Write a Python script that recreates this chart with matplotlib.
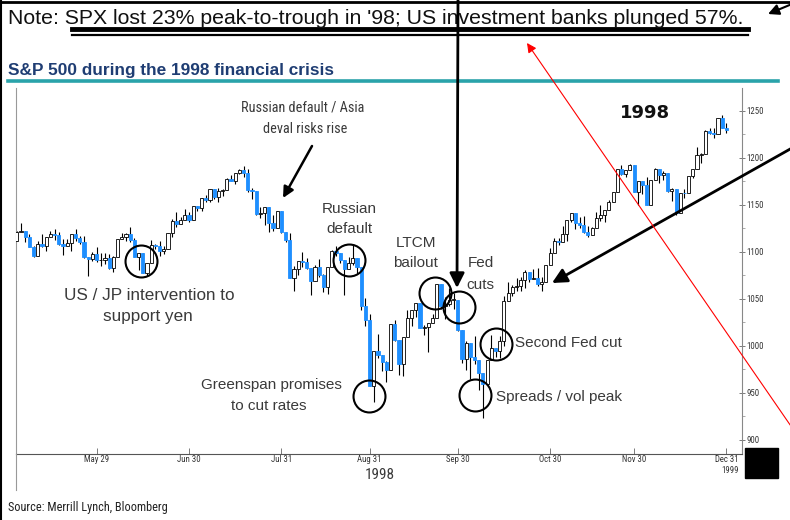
import numpy as np
import matplotlib
matplotlib.use("Agg")
import matplotlib.pyplot as plt
import matplotlib.font_manager as fm
from matplotlib.patches import Rectangle
from matplotlib.lines import Line2D

# ── DATA (S&P 500 daily, May 1 – Dec 31 1998) ───────────────────────────────
closes = [
    1121.0, 1122.1, 1115.5, 1104.9, 1095.1, 1108.1, 1106.6, 1115.8, 1118.9, 1117.4,
    1108.7, 1105.8, 1109.5, 1119.1, 1114.6, 1110.5, 1094.0, 1092.2, 1097.6, 1090.8,
    1091.0, 1093.2, 1082.7, 1094.8, 1113.9, 1115.7, 1118.4, 1112.3, 1094.6, 1098.8,
    1077.0, 1087.6, 1107.1, 1106.4, 1100.7, 1103.2, 1119.5, 1132.9, 1129.3, 1133.2,
    1138.5, 1133.8, 1148.6, 1146.4, 1157.3, 1154.7, 1166.4, 1158.6, 1164.3, 1165.2,
    1177.6, 1174.8, 1184.0, 1186.8, 1184.1, 1165.1, 1164.1, 1139.8, 1140.8, 1147.3,
    1130.2, 1125.2, 1143.0, 1120.7, 1112.4, 1072.1, 1081.4, 1089.6, 1089.5, 1083.1,
    1069.0, 1084.2, 1074.9, 1062.8, 1083.7, 1101.2, 1098.1, 1091.6, 1081.2, 1088.1,
    1092.9, 1084.2, 1042.6, 1027.1, 957.3, 994.3, 990.5, 982.3, 973.9, 1023.5,
    1006.2, 980.2, 1009.1, 1029.7, 1037.7, 1045.5, 1018.9, 1020.1, 1023.9, 1029.6,
    1066.1, 1042.7, 1044.8, 1048.7, 1049.0, 1017.0, 986.4, 1002.6, 988.6, 984.6,
    970.7, 959.4, 984.4, 997.7, 994.8, 1005.5, 1047.5, 1056.4, 1062.4, 1063.9,
    1069.9, 1078.5, 1070.7, 1072.3, 1065.3, 1068.1, 1085.9, 1098.7, 1111.6, 1110.8,
    1118.7, 1133.9, 1141.0, 1130.2, 1128.3, 1121.0, 1117.7, 1125.7, 1135.9, 1139.3,
    1144.5, 1152.6, 1163.6, 1188.2, 1183.0, 1186.9, 1192.3, 1163.6, 1175.3, 1171.3,
    1150.1, 1176.7, 1187.7, 1181.4, 1183.5, 1165.0, 1166.5, 1141.2, 1162.8, 1161.9,
    1180.0, 1188.0, 1202.8, 1203.6, 1228.5, 1226.3, 1225.5, 1241.8, 1231.9, 1229.2,
]
highs = [
    1121.6, 1130.5, 1122.1, 1118.7, 1105.6, 1111.0, 1119.1, 1116.0, 1122.0, 1124.4,
    1121.3, 1113.0, 1113.5, 1119.1, 1124.6, 1116.9, 1116.6, 1094.0, 1099.7, 1104.5,
    1098.4, 1098.4, 1097.4, 1095.1, 1113.9, 1119.9, 1119.4, 1126.0, 1114.2, 1098.8,
    1098.4, 1087.6, 1112.9, 1108.0, 1111.3, 1105.6, 1120.0, 1134.4, 1142.0, 1136.8,
    1145.2, 1142.0, 1148.6, 1148.6, 1157.3, 1159.9, 1166.4, 1166.4, 1167.3, 1166.9,
    1178.1, 1181.1, 1184.0, 1188.1, 1190.6, 1187.4, 1167.7, 1164.1, 1147.5, 1147.3,
    1147.3, 1138.6, 1143.6, 1143.0, 1121.3, 1119.7, 1084.8, 1090.0, 1100.2, 1093.6,
    1083.1, 1085.5, 1092.4, 1076.2, 1083.7, 1101.7, 1106.0, 1098.1, 1091.6, 1094.8,
    1106.9, 1092.9, 1084.2, 1051.0, 1033.5, 994.3, 1013.0, 990.5, 983.9, 1023.5,
    1027.0, 1006.2, 1009.1, 1038.4, 1037.7, 1045.5, 1045.5, 1022.0, 1023.9, 1033.9,
    1066.1, 1066.1, 1051.9, 1061.5, 1056.3, 1049.0, 1017.0, 1005.0, 1002.6, 1010.0,
    985.0, 970.7, 984.4, 1011.9, 997.7, 1010.7, 1053.1, 1067.5, 1064.4, 1072.3,
    1073.1, 1080.6, 1078.5, 1081.3, 1082.5, 1072.8, 1086.1, 1103.8, 1114.7, 1114.7,
    1127.4, 1133.9, 1141.0, 1141.0, 1136.9, 1137.5, 1126.9, 1126.5, 1142.0, 1149.4,
    1144.5, 1155.4, 1163.6, 1188.2, 1191.9, 1187.2, 1192.7, 1192.3, 1175.3, 1175.3,
    1179.0, 1176.7, 1189.0, 1187.7, 1185.8, 1183.5, 1167.7, 1166.5, 1162.8, 1167.0,
    1180.0, 1188.0, 1210.9, 1205.2, 1229.6, 1232.0, 1231.5, 1241.9, 1244.9, 1237.2,
]
lows = [
    1111.8, 1121.0, 1110.2, 1104.6, 1094.2, 1095.1, 1105.3, 1101.0, 1115.8, 1112.9,
    1106.9, 1096.3, 1105.8, 1101.2, 1111.9, 1108.0, 1093.7, 1074.4, 1090.0, 1089.5,
    1084.3, 1087.4, 1081.4, 1078.1, 1094.8, 1113.9, 1111.3, 1110.3, 1094.3, 1080.8,
    1077.0, 1074.7, 1087.6, 1103.0, 1095.4, 1097.2, 1103.2, 1116.0, 1126.0, 1129.3,
    1133.2, 1131.3, 1133.8, 1143.5, 1143.8, 1152.8, 1153.2, 1155.9, 1153.2, 1159.4,
    1165.2, 1174.7, 1171.9, 1182.4, 1179.2, 1163.1, 1156.3, 1139.5, 1135.3, 1128.8,
    1121.1, 1121.9, 1125.2, 1119.8, 1110.1, 1071.8, 1057.8, 1074.9, 1084.2, 1081.8,
    1054.0, 1069.0, 1073.0, 1057.2, 1055.1, 1083.7, 1095.9, 1088.0, 1054.0, 1081.2,
    1086.4, 1076.8, 1037.6, 1021.0, 957.3, 940.0, 987.0, 973.5, 961.6, 973.9,
    1005.0, 968.6, 968.0, 1009.1, 1021.3, 1030.5, 1018.5, 1011.9, 993.1, 1023.9,
    1029.6, 1039.0, 1028.5, 1042.2, 1039.3, 1015.7, 981.2, 973.9, 964.8, 980.9,
    952.9, 923.3, 959.4, 984.4, 987.9, 987.2, 1000.1, 1047.5, 1053.0, 1058.1,
    1058.1, 1061.5, 1067.3, 1070.7, 1063.2, 1057.8, 1068.1, 1085.9, 1098.7, 1106.9,
    1110.8, 1111.7, 1131.6, 1123.9, 1125.5, 1120.4, 1115.2, 1117.7, 1125.7, 1133.0,
    1131.1, 1144.5, 1152.6, 1163.6, 1181.5, 1179.4, 1186.9, 1163.3, 1150.0, 1161.5,
    1149.6, 1150.1, 1176.7, 1172.8, 1175.9, 1163.9, 1153.8, 1139.2, 1141.2, 1157.5,
    1161.9, 1178.3, 1188.0, 1194.1, 1203.6, 1225.0, 1221.0, 1225.5, 1231.2, 1225.9,
]
first_open = 1111.8
opens = [first_open] + closes[:-1]   # index opens at prior close

# x tick positions (trading-day index) and labels
tick_idx = [19, 41, 63, 84, 105, 127, 147, 169]
tick_labels = ["May 29", "Jun 30", "Jul 31", "Aug 31", "Sep 30", "Oct 30", "Nov 30", "Dec 31"]
y_ticks = [900, 950, 1000, 1050, 1100, 1150, 1200, 1250]

# circled events: (trading-day index, price)
events = {
    "usjp": (29.5, 1090),
    "russia": (79.2, 1091.5),
    "ltcm": (99.7, 1056),
    "fedcuts": (105.2, 1041),
    "fed2": (114.2, 1002),
    "spreads": (109.0, 948),
    "greenspan": (83.8, 947),
}

# ── STYLE ────────────────────────────────────────────────────────────────────
names = {f.name for f in fm.fontManager.ttflist}
NARROW = "Liberation Sans"
for cand in ("Liberation Sans Narrow", "DejaVu Sans Condensed", "Roboto Condensed",
             "Open Sans Condensed", "Noto Sans Condensed"):
    if cand in names:
        NARROW = cand
        break
SANS = "Liberation Sans"
BLUE = "#1e8fff"
GREY_TXT = "#3a3a3a"

W, H = 790, 520
fig = plt.figure(figsize=(W / 100, H / 100), dpi=100)

# main chart axes (pixel box: x 16..742, y 88..454)
ax = fig.add_axes([16 / W, 1 - 454 / H, (742 - 16) / W, (454 - 88) / H])
ax.set_xlim(-0.2, 172.7)
ax.set_ylim(885, 1274)

for i, (o, h, l, c) in enumerate(zip(opens, highs, lows, closes)):
    ax.vlines(i, l, h, color="black", lw=0.8, zorder=2)
    down = c < o
    body = max(abs(c - o), 0.8)
    ax.bar(i, body, bottom=min(o, c), width=0.75,
           color=BLUE if down else "white",
           edgecolor=BLUE if down else "black", lw=0.6, zorder=3)

for key, (xi, yv) in events.items():
    ax.plot(xi, yv, marker="o", ms=23, mfc="none", mec="black", mew=1.5,
            zorder=5, clip_on=False)

ax.yaxis.tick_right()
ax.set_yticks(y_ticks)
ax.set_yticks(np.arange(900, 1275, 25), minor=True)
ax.set_yticklabels([str(v) for v in y_ticks], fontsize=6.3, color="#333333", family=NARROW)
ax.tick_params(axis="y", which="major", direction="inout", length=4, width=0.6, pad=1, color="#666666")
ax.tick_params(axis="y", which="minor", direction="out", length=2, width=0.5, color="#888888")
ax.set_xticks(tick_idx)
ax.set_xticklabels(tick_labels, fontsize=6.3, color="#333333", family=NARROW)
ax.tick_params(axis="x", direction="in", length=4, width=0.6, pad=1, color="#666666")
ax.spines["top"].set_visible(False)
ax.spines["left"].set_color("#999999")
ax.spines["right"].set_color("#888888")
ax.spines["bottom"].set_color("#555555")
for s in ("left", "right", "bottom"):
    ax.spines[s].set_linewidth(0.8)

# ── OVERLAY (pixel coordinates) ─────────────────────────────────────────────
ov = fig.add_axes([0, 0, 1, 1])
ov.set_xlim(0, W)
ov.set_ylim(H, 0)
ov.axis("off")
ov.patch.set_alpha(0)

# frame
ov.add_line(Line2D([0, W], [1.5, 1.5], color="black", lw=2))
ov.add_line(Line2D([1, 1], [0, H], color="black", lw=1.5))
ov.add_line(Line2D([16, 16], [454, 490], color="#999999", lw=0.8))

ov.text(8, 18, "Note: SPX lost 23% peak-to-trough in '98; US investment banks plunged 57%.",
        fontsize=15.35, family=SANS, color="#111111", va="center", ha="left")
ov.add_line(Line2D([72, 748], [29, 29], color="black", lw=3.5))
ov.add_line(Line2D([72, 748], [35, 35], color="black", lw=1.6))

ov.text(8, 70, "S&P 500 during the 1998 financial crisis", fontsize=12.4, family=SANS,
        weight="bold", color="#1f3d73", va="center", ha="left")
ov.add_line(Line2D([8, 778], [80.5, 80.5], color="#2aa3aa", lw=2.6))

ov.text(645, 113, "1998", fontsize=13, weight="bold", family="DejaVu Sans",
        color="#111111", ha="center", va="center")

ann = dict(fontsize=11, family=SANS, color=GREY_TXT, ha="center", va="center")
narrow_ann = dict(ann, family=NARROW, fontsize=10.3 if NARROW != SANS else 8.5)
ov.text(303, 108, "Russian default / Asia", **narrow_ann)
ov.text(305, 129, "deval risks rise", **narrow_ann)
big_ann = dict(ann, fontsize=12.3)
ov.text(149, 296, "US / JP intervention to", **big_ann)
ov.text(148, 317, "support yen", **big_ann)
ov.text(349, 209, "Russian", **ann)
ov.text(349, 229, "default", **ann)
ov.text(416, 243, "LTCM", **ann)
ov.text(415, 263, "bailout", **ann)
ov.text(481, 263, "Fed", **ann)
ov.text(480, 285, "cuts", **ann)
ov.text(568, 343, "Second Fed cut", **ann)
ov.text(271, 385, "Greenspan promises", **ann)
ov.text(269, 406, "to cut rates", **ann)
ov.text(559, 397, "Spreads / vol peak", **ann)

arrow = dict(arrowstyle="-|>", color="black", shrinkA=0, shrinkB=0)
ov.annotate("", xy=(283, 198), xytext=(312, 146),
            arrowprops=dict(arrow, lw=1.8, mutation_scale=16))
ov.annotate("", xy=(457, 288), xytext=(458, 0),
            arrowprops=dict(arrow, lw=2, mutation_scale=22))
ov.annotate("", xy=(552, 283), xytext=(792, 148),
            arrowprops=dict(arrow, lw=2, mutation_scale=22))
ov.annotate("", xy=(768, 14), xytext=(792, 4),
            arrowprops=dict(arrow, lw=1.5, mutation_scale=16))
ov.annotate("", xy=(527, 43), xytext=(795, 432),
            arrowprops=dict(arrowstyle="-|>", color="red", lw=0.8, shrinkA=0, shrinkB=0,
                            mutation_scale=14))

# axis extras
ov.text(380, 475, "1998", fontsize=11, family=NARROW, color=GREY_TXT, ha="center", va="center")
ov.text(739, 470.5, "1999", fontsize=6.3, family=NARROW, color="#333333", ha="right", va="center")
ov.add_patch(Rectangle((745, 448), 33, 30, color="black"))

ov.text(8, 508, "Source: Merrill Lynch, Bloomberg", fontsize=8.8, family=NARROW,
        color="#222222", ha="left", va="center")

fig.savefig("out.png", dpi=100)
